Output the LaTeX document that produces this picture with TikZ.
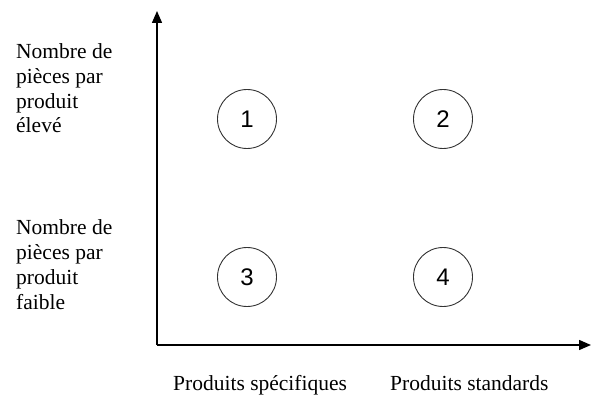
\documentclass[tikz,border=0pt]{standalone}
\usepackage{fontspec}
\setmainfont{Liberation Serif}
\newfontfamily\digitfont{Liberation Sans}
\usetikzlibrary{arrows.meta}
\tikzset{
  axisline/.style={line width=1.4pt,-{Triangle[length=12pt,width=10pt]}},
  numcircle/.style={circle,draw=black!80,line width=0.9pt,minimum size=59pt,inner sep=0pt,font=\digitfont\fontsize{24}{26}\selectfont},
  sidelabel/.style={anchor=base west,align=left,inner sep=0pt,font=\fontsize{21.5}{24.7}\selectfont},
  bottomlabel/.style={anchor=base west,inner sep=0pt,font=\fontsize{21.5}{24.7}\selectfont}
}
\begin{document}
\begin{tikzpicture}[x=1pt,y=-1pt]
\useasboundingbox (0,0) rectangle (591,395);
\coordinate (o) at (157,345);
\coordinate (ytop) at (157,11);
\coordinate (xend) at (591,345);
\draw[axisline] (o) -- (ytop);
\draw[axisline] (o) -- (xend);
\node[numcircle] (c1) at (247,119) {1};
\node[numcircle] (c2) at (443,119) {2};
\node[numcircle] (c3) at (247,277) {3};
\node[numcircle] (c4) at (443,277) {4};
\node[sidelabel] (lhigh) at (16,133) {Nombre de\\pièces par\\produit\\élevé};
\node[sidelabel] (llow) at (16,309) {Nombre de\\pièces par\\produit\\faible};
\node[bottomlabel] (bspec) at (173,390) {Produits spécifiques};
\node[bottomlabel] (bstd) at (390,390) {Produits standards};
\end{tikzpicture}
\end{document}
